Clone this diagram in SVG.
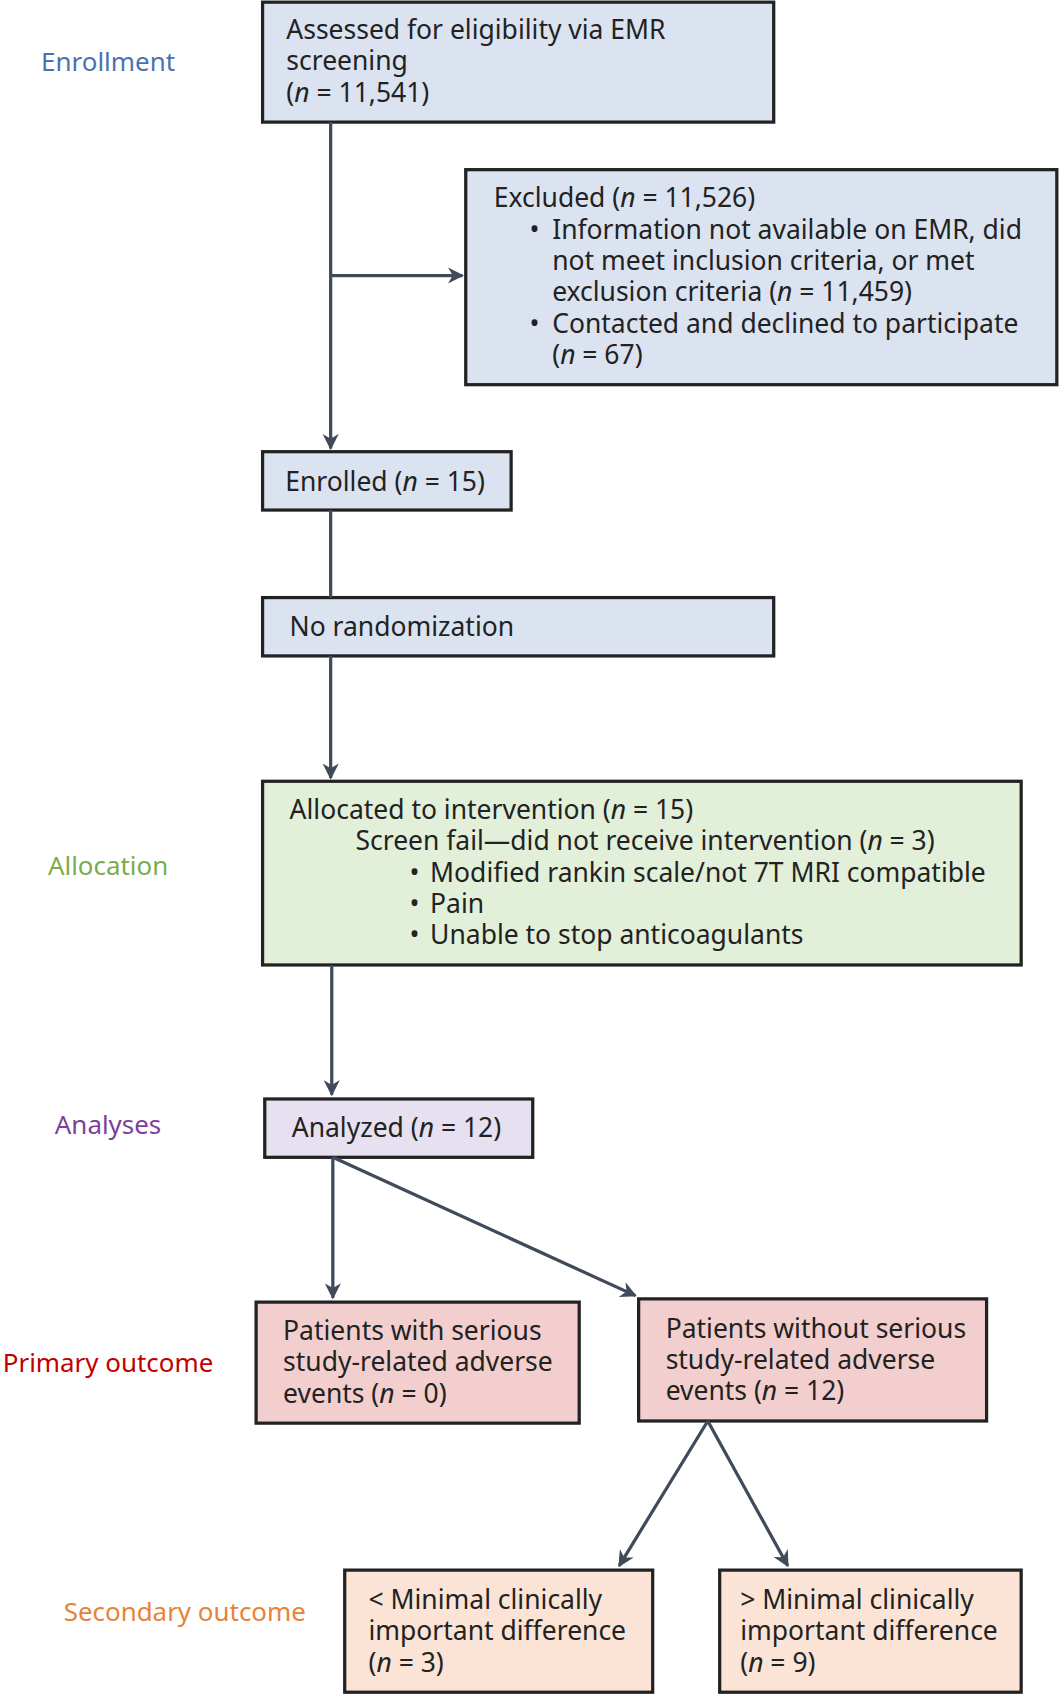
<svg xmlns="http://www.w3.org/2000/svg" width="1059" height="1695" viewBox="0 0 1059 1695">
<defs>
<marker id="ah" viewBox="0 0 10 10" refX="9" refY="5" markerWidth="5" markerHeight="5" orient="auto"><path d="M0,0 L10,5 L0,10 L3,5 z" fill="#3f4a5a"/></marker>
<style>
text{font-family:"Noto Sans","Open Sans",sans-serif;font-size:24.5px;fill:#222}
.bl rect{fill:#dbe3f1}.gr rect{fill:#e2efd9}.pu rect{fill:#e6e0f0}.rd rect{fill:#f2cfce}.or rect{fill:#fbe4d5}
g rect{stroke:#222;stroke-width:3}
.c line{stroke:#3f4a5a;stroke-width:3;fill:none}
.lab{font-size:24px;text-anchor:middle}
</style>
</defs>
<rect width="1059" height="1695" fill="#fff"/>
<g transform="scale(1.0806)">
<text class="lab" x="100" y="66" style="fill:#4a72b0">Enrollment</text>
<text class="lab" x="100" y="810" style="fill:#7bab4e">Allocation</text>
<text class="lab" x="100" y="1049" style="fill:#7d3f98">Analyses</text>
<text class="lab" x="100" y="1270" style="fill:#c00000">Primary outcome</text>
<text class="lab" x="171" y="1500" style="fill:#e8823a">Secondary outcome</text>
<g id="n1" class="bl"><rect x="243" y="2" width="473" height="111"/><text x="265" y="36">Assessed for eligibility via EMR</text><text x="265" y="65">screening</text><text x="265" y="94">(<tspan font-style="italic">n</tspan> = 11,541)</text></g>
<g id="n2" class="bl"><rect x="431" y="157" width="547" height="199"/><text x="457" y="192">Excluded (<tspan font-style="italic">n</tspan> = 11,526)</text><text x="490" y="221">•</text><text x="511" y="221">Information not available on EMR, did</text><text x="511" y="250">not meet inclusion criteria, or met</text><text x="511" y="279">exclusion criteria (<tspan font-style="italic">n</tspan> = 11,459)</text><text x="490" y="308">•</text><text x="511" y="308">Contacted and declined to participate</text><text x="511" y="337">(<tspan font-style="italic">n</tspan> = 67)</text></g>
<g id="n3" class="bl"><rect x="243" y="418" width="230" height="54"/><text x="264" y="454">Enrolled (<tspan font-style="italic">n</tspan> = 15)</text></g>
<g id="n4" class="bl"><rect x="243" y="553" width="473" height="54"/><text x="268" y="589">No randomization</text></g>
<g id="n5" class="gr"><rect x="243" y="723" width="702" height="170"/><text x="268" y="758">Allocated to intervention (<tspan font-style="italic">n</tspan> = 15)</text><text x="329" y="787">Screen fail—did not receive intervention (<tspan font-style="italic">n</tspan> = 3)</text><text x="379" y="816">•</text><text x="398" y="816">Modified rankin scale/not 7T MRI compatible</text><text x="379" y="845">•</text><text x="398" y="845">Pain</text><text x="379" y="874">•</text><text x="398" y="874">Unable to stop anticoagulants</text></g>
<g id="n6" class="pu"><rect x="245" y="1017" width="248" height="54"/><text x="270" y="1052">Analyzed (<tspan font-style="italic">n</tspan> = 12)</text></g>
<g id="n7" class="rd"><rect x="237" y="1205" width="299" height="112"/><text x="262" y="1240">Patients with serious</text><text x="262" y="1269">study-related adverse</text><text x="262" y="1298">events (<tspan font-style="italic">n</tspan> = 0)</text></g>
<g id="n8" class="rd"><rect x="591" y="1202" width="322" height="113"/><text x="616" y="1238">Patients without serious</text><text x="616" y="1267">study-related adverse</text><text x="616" y="1296">events (<tspan font-style="italic">n</tspan> = 12)</text></g>
<g id="n9" class="or"><rect x="319" y="1453" width="285" height="113"/><text x="341" y="1489">&lt; Minimal clinically</text><text x="341" y="1518">important difference</text><text x="341" y="1547">(<tspan font-style="italic">n</tspan> = 3)</text></g>
<g id="n10" class="or"><rect x="666" y="1453" width="279" height="113"/><text x="685" y="1489">&gt; Minimal clinically</text><text x="685" y="1518">important difference</text><text x="685" y="1547">(<tspan font-style="italic">n</tspan> = 9)</text></g>
<g id="connectors" class="c">
<line x1="306" y1="113" x2="306" y2="415" marker-end="url(#ah)"/>
<line x1="306" y1="255" x2="428" y2="255" marker-end="url(#ah)"/>
<line x1="306" y1="472" x2="306" y2="553"/>
<line x1="306" y1="607" x2="306" y2="720" marker-end="url(#ah)"/>
<line x1="307" y1="893" x2="307" y2="1013" marker-end="url(#ah)"/>
<line x1="308" y1="1071" x2="308" y2="1201" marker-end="url(#ah)"/>
<line x1="308" y1="1071" x2="588" y2="1199" marker-end="url(#ah)"/>
<line x1="655" y1="1315" x2="573" y2="1449" marker-end="url(#ah)"/>
<line x1="655" y1="1315" x2="729" y2="1449" marker-end="url(#ah)"/>
</g>
</g>
</svg>
